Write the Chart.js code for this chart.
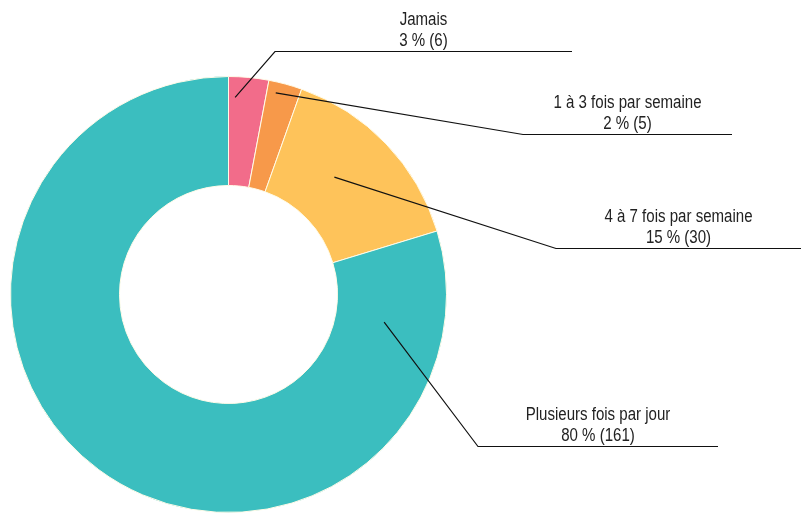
<!DOCTYPE html>
<html lang="fr">
<head>
<meta charset="utf-8">
<title>Fréquence</title>
<script src="https://cdn.jsdelivr.net/npm/chart.js@4.4.1/dist/chart.umd.min.js"></script>
<style>
  html, body { margin: 0; padding: 0; background: #fff; }
  #wrap { width: 801px; height: 513px; position: relative; }
</style>
</head>
<body>
<div id="wrap"><canvas id="mainChart" width="801" height="513"></canvas></div>
<script>
const categories = ['Jamais', '1 à 3 fois par semaine', '4 à 7 fois par semaine', 'Plusieurs fois par jour'];
const counts = [6, 5, 30, 161];
const percents = [3, 2, 15, 80];
const colors = ['#f26c8a', '#f7994a', '#fec35a', '#3bbebf'];

// leader line layout: where the line starts inside each slice (t = along the arc,
// f = between inner and outer radius), the elbow point and the end of the underline
const callouts = [
    { t: 0.18, f: 0.81, elbowX: 275, elbowY: 51,  endX: 572 },
    { t: 0.28, f: 0.90, elbowX: 523, elbowY: 134, endX: 732 },
    { t: 0.42, f: 0.45, elbowX: 556, elbowY: 248, endX: 801 },
    { t: 0.094, f: 0.45, elbowX: 478, elbowY: 446, endX: 718 }
];

// narrow sans look: regular Liberation Sans squeezed horizontally
function narrowText(ctx, text, x, y) {
    ctx.save();
    ctx.translate(x, y);
    ctx.scale(0.86, 1);
    ctx.fillText(text, 0, 0);
    ctx.restore();
}

const calloutPlugin = {
    id: 'callouts',
    afterDatasetsDraw(chart) {
        const ctx = chart.ctx;
        const meta = chart.getDatasetMeta(0);
        ctx.save();
        meta.data.forEach((arc, i) => {
            const p = arc.getProps(['x', 'y', 'startAngle', 'endAngle', 'innerRadius', 'outerRadius']);
            const c = callouts[i];
            const a = p.startAngle + c.t * (p.endAngle - p.startAngle);
            const r = p.innerRadius + c.f * (p.outerRadius - p.innerRadius);
            const ax = p.x + Math.cos(a) * r;
            const ay = p.y + Math.sin(a) * r;

            ctx.strokeStyle = '#111';
            ctx.lineWidth = 1.2;
            ctx.beginPath();
            ctx.moveTo(ax, ay);
            ctx.lineTo(c.elbowX, c.elbowY + 0.5);
            ctx.lineTo(c.endX, c.elbowY + 0.5);
            ctx.stroke();

            const cx = (c.elbowX + c.endX) / 2;
            ctx.fillStyle = '#222';
            ctx.font = '17.5px "Liberation Sans", Arial, sans-serif';
            ctx.textAlign = 'center';
            ctx.textBaseline = 'alphabetic';
            narrowText(ctx, categories[i], cx, c.elbowY - 26);
            narrowText(ctx, percents[i] + ' % (' + counts[i] + ')', cx, c.elbowY - 5);
        });
        ctx.restore();
    }
};

new Chart(document.getElementById('mainChart'), {
    type: 'doughnut',
    data: {
        labels: categories,
        datasets: [{
            data: counts,
            backgroundColor: colors,
            borderColor: '#fffbe8',
            borderWidth: 1
        }]
    },
    options: {
        responsive: false,
        animation: false,
        cutout: '50%',
        layout: { padding: { left: 10, right: 354, top: 76, bottom: 0 } },
        plugins: {
            legend: { display: false },
            tooltip: { enabled: false }
        }
    },
    plugins: [calloutPlugin]
});
</script>
</body>
</html>
